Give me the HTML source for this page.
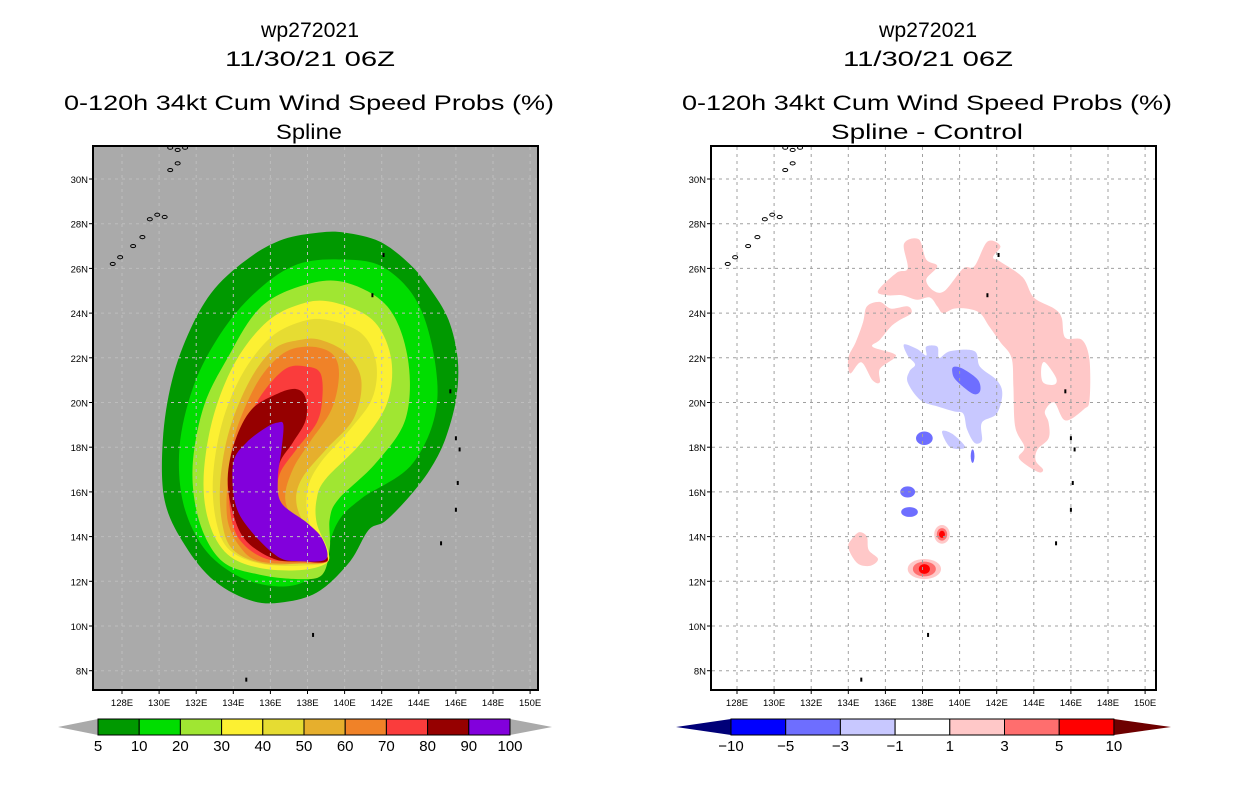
<!DOCTYPE html>
<html><head><meta charset="utf-8"><style>
html,body{margin:0;padding:0;background:#fff;}
svg{display:block;font-family:"Liberation Sans",sans-serif;}
</style></head><body>
<svg id="s" width="1236" height="800" viewBox="0 0 1236 800" xmlns="http://www.w3.org/2000/svg">
<defs>
<clipPath id="clipL"><rect x="93" y="146" width="445" height="544"/></clipPath>
<clipPath id="clipR"><rect x="711" y="146" width="445" height="544"/></clipPath>
</defs>
<g font-size="21" text-anchor="middle" fill="#000">
<text x="310" y="37" textLength="98" lengthAdjust="spacingAndGlyphs">wp272021</text>
<text x="310" y="66" textLength="170" lengthAdjust="spacingAndGlyphs">11/30/21 06Z</text>
<text x="309" y="110" textLength="490" lengthAdjust="spacingAndGlyphs">0-120h 34kt Cum Wind Speed Probs (%)</text>
<text x="309" y="139" textLength="66" lengthAdjust="spacingAndGlyphs">Spline</text>
</g>
<g font-size="21" text-anchor="middle" fill="#000">
<text x="928" y="37" textLength="98" lengthAdjust="spacingAndGlyphs">wp272021</text>
<text x="928" y="66" textLength="170" lengthAdjust="spacingAndGlyphs">11/30/21 06Z</text>
<text x="927" y="110" textLength="490" lengthAdjust="spacingAndGlyphs">0-120h 34kt Cum Wind Speed Probs (%)</text>
<text x="927" y="139" textLength="192" lengthAdjust="spacingAndGlyphs">Spline - Control</text>
</g>
<rect x="93" y="146" width="445" height="544" fill="#aaaaaa"/>
<rect x="711" y="146" width="445" height="544" fill="#ffffff"/>
<g id="left-fill" clip-path="url(#clipL)"></g>
<g id="right-fill" clip-path="url(#clipR)"></g>
<g id="grid"></g>
<g id="islands"></g>
<rect x="93" y="146" width="445" height="544" fill="none" stroke="#000" stroke-width="2"/>
<rect x="711" y="146" width="445" height="544" fill="none" stroke="#000" stroke-width="2"/>
<g id="axes" font-size="9.5" fill="#000"></g>
<g id="cbars"></g>
</svg>
<script>
// ---- axis ticks ----
const lonTicks = [128,130,132,134,136,138,140,142,144,146,148,150];
const latTicks = [8,10,12,14,16,18,20,22,24,26,28,30];
// ---- left panel probability contours (lon,lat) ----
const levelsLeft = [5,10,20,30,40,50,60,70,80,90,100];
const c5 = [[138.6,27.6],[140.0,27.6],[141.9,27.2],[143.5,26.2],[144.6,25.1],[145.6,23.7],[146.1,21.9],[146.0,20.1],[145.4,18.3],[144.6,17.0],[143.5,15.8],[142.2,14.7],[141.3,14.3],[140.3,12.9],[138.7,11.6],[137.0,11.1],[135.1,11.1],[133.0,12.0],[131.4,13.6],[130.3,15.6],[130.2,18.3],[130.7,21.0],[131.7,23.3],[133.0,25.1],[134.9,26.5],[136.7,27.3]];
const c10 = [[139.7,26.4],[142.2,26.0],[144.2,24.0],[145.0,20.2],[143.7,17.3],[140.9,15.7],[139.6,14.6],[138.7,12.6],[137.6,11.9],[136.0,11.8],[134.1,12.3],[132.4,13.5],[131.3,15.5],[131.1,18.0],[131.8,20.6],[133.1,22.8],[134.9,24.7],[137.2,26.1]];
const c20 = [[139.9,25.4],[142.3,24.3],[143.4,22.0],[143.3,19.3],[141.7,17.3],[139.7,15.7],[139.2,14.8],[139.2,13.5],[138.8,12.3],[137.6,12.1],[135.4,12.3],[133.4,12.9],[132.2,14.6],[131.8,17.0],[132.4,19.8],[133.7,22.0],[135.4,24.2],[137.6,25.2]];
const c30 = [[139.3,24.5],[141.5,23.7],[142.5,22.0],[142.3,20.0],[140.9,18.2],[139.0,16.6],[138.5,15.7],[138.5,14.6],[139.1,13.4],[139.0,12.8],[137.6,12.5],[135.4,12.6],[133.7,13.2],[132.7,14.6],[132.4,16.6],[132.9,19.3],[134.1,21.8],[135.8,23.6],[137.6,24.4]];
const c40 = [[139.0,23.7],[140.9,23.1],[141.7,21.8],[141.5,20.2],[140.3,18.8],[138.7,17.3],[138.0,16.1],[138.1,14.6],[139.1,13.0],[137.6,12.7],[135.4,12.8],[133.8,13.4],[133.1,14.6],[132.9,16.6],[133.4,19.1],[134.5,21.3],[136.0,22.9],[137.6,23.6]];
const c50 = [[138.7,22.8],[140.1,22.2],[140.9,21.0],[140.5,19.3],[139.0,17.9],[137.7,16.6],[137.4,15.5],[138.0,14.3],[139.1,13.0],[137.6,12.8],[135.6,12.8],[134.0,13.4],[133.4,14.6],[133.3,16.5],[133.8,18.8],[134.9,21.0],[136.2,22.4],[137.6,22.8]];
const c60 = [[138.1,22.5],[139.3,22.2],[139.7,21.3],[139.3,19.7],[138.1,18.2],[137.2,17.0],[136.8,15.7],[137.4,14.6],[139.1,13.0],[137.6,12.8],[135.4,12.9],[134.4,13.5],[133.7,14.7],[133.7,16.5],[134.1,18.6],[135.3,20.9],[136.7,22.2]];
const c70 = [[138.0,21.6],[138.7,21.3],[138.8,20.2],[138.5,19.1],[137.4,17.9],[136.5,16.8],[136.4,15.7],[136.8,14.7],[139.1,13.0],[137.6,12.9],[135.8,13.0],[134.5,13.7],[133.9,14.8],[133.8,16.6],[134.4,18.4],[135.4,20.2],[136.8,21.5]];
const c80 = [[137.4,20.6],[137.9,20.2],[137.9,19.2],[137.2,18.2],[136.5,17.3],[136.3,16.1],[136.5,15.2],[137.6,14.6],[139.1,13.0],[137.6,12.9],[136.2,13.0],[134.7,13.8],[134.0,15.0],[133.7,16.6],[134.1,18.3],[135.0,19.7],[136.4,20.4]];
const c90 = [[136.4,19.1],[136.7,19.0],[136.6,17.9],[136.4,16.6],[136.6,15.5],[138.0,14.6],[138.8,13.9],[139.0,13.0],[137.6,12.9],[136.4,13.1],[134.9,14.3],[134.1,15.5],[134.0,17.3],[134.7,18.2],[135.8,18.9]];
const leftColors = ['#009900','#00dd00','#a0e632','#fcf032','#e6dc32','#e6af2d','#f08228','#fa3c3c','#960000','#8200dc'];
// ---- right panel difference contours (lon,lat) ----
const levelsRight = [-10,-5,-3,-1,1,3,5,10];
const pinkMain = [[135.6,25.0],[136.6,25.8],[137.2,26.0],[137.0,27.1],[137.8,27.3],[138.2,26.4],[138.8,26.1],[138.2,25.5],[138.6,25.0],[139.2,25.0],[140.2,26.0],[140.8,26.1],[141.5,27.2],[142.2,27.0],[141.8,26.5],[142.2,26.3],[143.4,25.6],[144.0,24.7],[145.1,24.2],[145.5,23.8],[145.7,22.9],[146.6,22.8],[147.0,21.9],[147.0,20.1],[146.7,19.7],[145.7,19.2],[145.1,20.0],[144.6,19.6],[144.8,19.1],[144.8,18.4],[144.2,17.9],[144.1,17.4],[144.5,17.0],[144.2,16.9],[143.2,17.5],[143.5,18.0],[143.0,18.9],[142.9,20.7],[142.8,22.0],[142.2,22.7],[141.6,23.4],[141.1,24.0],[140.4,24.2],[139.7,24.2],[139.1,24.0],[138.8,24.3],[138.4,24.7],[137.7,24.6],[136.9,24.8],[136.1,24.8]];
const pinkHole = [[144.4,21.5],[144.6,21.8],[145.2,21.1],[145.1,20.8],[144.5,20.9]];
const pinkWest = [[135.0,24.3],[135.7,24.5],[136.3,24.2],[137.2,24.3],[137.4,24.0],[136.8,23.7],[136.3,23.4],[135.7,22.8],[135.3,22.5],[136.4,22.2],[136.5,22.0],[135.7,21.5],[135.7,20.9],[135.3,21.0],[134.7,21.8],[134.1,21.3],[134.0,22.0],[134.4,22.7],[134.8,23.6]];
const pinkSW = [[134.6,14.2],[135.0,14.0],[135.1,13.4],[135.6,13.0],[135.2,12.7],[134.5,12.8],[134.0,13.5],[134.2,13.9]];
const blueLight = [[137.0,22.6],[137.7,22.4],[138.2,22.1],[138.2,22.5],[138.8,22.5],[138.9,22.0],[139.5,22.3],[140.8,22.3],[141.1,21.6],[142.0,21.0],[142.3,20.4],[142.0,19.5],[141.2,19.1],[141.2,18.3],[140.8,18.2],[140.4,18.8],[140.2,19.5],[139.7,19.6],[138.9,19.8],[137.9,20.1],[137.2,20.9],[137.3,21.4],[137.6,21.7],[137.2,22.1]];
const blueDark = [[139.7,21.6],[140.2,21.5],[141.0,21.0],[141.1,20.5],[140.7,20.4],[139.8,21.0],[139.6,21.4]];
const blueSmall = [[139.05,18.7],[139.6,18.6],[140.3,18.0],[139.5,18.0]];
const blobLon = [134.7,141.0,138.1,137.2,137.3,140.7,139.05,139.05,139.05,139.05,138.1,138.1,138.1,138.1];
const blobLat = [20.0,25.0,18.4,16.0,15.1,17.6,14.1,14.1,14.1,14.1,12.55,12.55,12.55,12.55];
const blobLevel = [4,5,2,2,2,2,4,5,6,7,4,5,6,7];
const blobRx = [0.3,0.45,0.45,0.4,0.45,0.1,0.6,0.42,0.28,0.16,1.2,0.9,0.62,0.3];
const blobRy = [0.35,0.12,0.3,0.25,0.22,0.3,0.6,0.42,0.28,0.16,0.6,0.45,0.33,0.22];
const rightColors = ['#000078','#0000ff','#6e6eff','#c8c8ff','#ffffff','#ffc8c8','#ff6e6e','#ff0000','#6e0000'];
// ---- islands (lon,lat) ----
const islandChain = [[126.3,26.3],[127.5,26.2],[127.9,26.5],[128.6,27.0],[129.1,27.4],[129.5,28.2],[129.9,28.4],[130.3,28.3]];
const islandTop = [[130.6,31.4],[131.0,31.3],[131.4,31.4],[131.0,30.7],[130.6,30.4]];
const islandDots = [[134.7,7.6],[138.3,9.6],[145.2,13.7],[146.0,15.2],[146.0,18.4],[142.1,26.6],[141.5,24.8],[146.2,17.9],[145.7,20.5],[146.1,16.4]];

const NS='http://www.w3.org/2000/svg';
function mk(tag,attrs,parent){const e=document.createElementNS(NS,tag);for(const k in attrs)e.setAttribute(k,attrs[k]);parent.appendChild(e);return e;}
const panels = {L:93, R:711};
function xS(p,lon){return (p==='L'?122:737)+(lon-128)*18.55;}
function yS(lat){return 179+(30-lat)*22.35;}
function smooth(p,pts){
  const P=pts.map(d=>[xS(p,d[0]),yS(d[1])]);const n=P.length;let s='M'+P[0][0].toFixed(1)+','+P[0][1].toFixed(1);
  for(let i=0;i<n;i++){const p0=P[(i-1+n)%n],p1=P[i],p2=P[(i+1)%n],p3=P[(i+2)%n];
    const c1=[p1[0]+(p2[0]-p0[0])/6,p1[1]+(p2[1]-p0[1])/6],c2=[p2[0]-(p3[0]-p1[0])/6,p2[1]-(p3[1]-p1[1])/6];
    s+='C'+c1[0].toFixed(1)+','+c1[1].toFixed(1)+' '+c2[0].toFixed(1)+','+c2[1].toFixed(1)+' '+p2[0].toFixed(1)+','+p2[1].toFixed(1);}
  return s+'Z';}
const lf=document.getElementById('left-fill');
[c5,c10,c20,c30,c40,c50,c60,c70,c80,c90].forEach((c,i)=>{
  const e=mk('path',{d:smooth('L',c),fill:leftColors[i]},lf);
  
  
});
const rf=document.getElementById('right-fill');
function rp(pts,col,name,rule){const e=mk('path',{d:pts,fill:col,'fill-rule':rule||'nonzero'},rf);
  
  }
rp(smooth('R',pinkMain)+smooth('R',pinkHole),rightColors[5],'positive-diff-region-north','evenodd');
rp(smooth('R',pinkWest),rightColors[5],'positive-diff-region-west');
rp(smooth('R',pinkSW),rightColors[5],'positive-diff-region-southwest');
rp(smooth('R',blueLight),rightColors[3],'negative-diff-region');
rp(smooth('R',blueDark),rightColors[2],'negative-diff-core');
rp(smooth('R',blueSmall),rightColors[3],'negative-diff-small');
blobLon.forEach((lon,i)=>{
  const e=mk('ellipse',{cx:xS('R',lon),cy:yS(blobLat[i]),rx:blobRx[i]*18.55,ry:blobRy[i]*22.35,fill:rightColors[blobLevel[i]]},rf);
  
  
});
const g=document.getElementById('grid');
['L','R'].forEach(p=>{
  const x0=panels[p],col=p==='L'?'#bdbdbd':'#a0a0a0';
  lonTicks.concat([126]).forEach(lon=>{const x=xS(p,lon);if(x<=x0||x>=x0+445)return;
    const e=mk('line',{x1:x,y1:147,x2:x,y2:689,stroke:col,'stroke-width':1,'stroke-dasharray':'3,4'},g);
    
    });
  latTicks.forEach(lat=>{const y=yS(lat);
    const e=mk('line',{x1:x0+1,y1:y,x2:x0+444,y2:y,stroke:col,'stroke-width':1,'stroke-dasharray':'3,4'},g);
    
    });
});
const isl=document.getElementById('islands');
['L','R'].forEach(p=>{
  const cl=mk('g',{'clip-path':'url(#clip'+p+')'},isl);
  
  
  islandChain.concat(islandTop).forEach(d=>{
    const e=mk('ellipse',{cx:xS(p,d[0]),cy:yS(d[1]),rx:2.5,ry:1.6,fill:'none',stroke:'#000','stroke-width':1},cl);
    
    });
  islandDots.forEach(d=>{
    const e=mk('rect',{x:xS(p,d[0])-1,y:yS(d[1])-2,width:2,height:4,fill:'#000'},cl);
    
    });
});
const ax=document.getElementById('axes');
['L','R'].forEach(p=>{
  const x0=panels[p];
  lonTicks.forEach(lon=>{const x=xS(p,lon);
    const t=mk('line',{x1:x,y1:690,x2:x,y2:694,stroke:'#000'},ax);
    
    
    const e=mk('text',{x:x,y:706,'text-anchor':'middle'},ax);e.textContent=lon+'E';
    
    });
  latTicks.forEach(lat=>{const y=yS(lat);
    const t=mk('line',{x1:x0-4,y1:y,x2:x0,y2:y,stroke:'#000'},ax);
    
    
    const e=mk('text',{x:x0-5,y:y+4,'text-anchor':'end'},ax);e.textContent=lat+'N';
    
    });
});
const cb=document.getElementById('cbars');
(function(){
  const x0=98,w=41.2,y0=719,h=16;
  const tl=mk('polygon',{points:`58,${y0+h/2} ${x0},${y0} ${x0},${y0+h}`,fill:'#aaaaaa'},cb);
  
  
  const tr=mk('polygon',{points:`${x0+10*w},${y0} 552,${y0+h/2} ${x0+10*w},${y0+h}`,fill:'#aaaaaa'},cb);
  
  
  leftColors.forEach((c,i)=>{const e=mk('rect',{x:x0+i*w,y:y0,width:w,height:h,fill:c,stroke:'#000','stroke-width':1},cb);
    
    });
  levelsLeft.forEach((v,i)=>{const e=mk('text',{x:x0+i*w,y:751,'text-anchor':'middle','font-size':15},cb);e.textContent=v;
    
    });
})();
(function(){
  const x0=731,w=54.7,y0=719,h=16;
  const tl=mk('polygon',{points:`676,${y0+h/2} ${x0},${y0} ${x0},${y0+h}`,fill:rightColors[0]},cb);
  
  
  const tr=mk('polygon',{points:`${x0+7*w},${y0} 1171,${y0+h/2} ${x0+7*w},${y0+h}`,fill:rightColors[8]},cb);
  
  
  rightColors.slice(1,8).forEach((c,i)=>{const e=mk('rect',{x:x0+i*w,y:y0,width:w,height:h,fill:c,stroke:'#000','stroke-width':1},cb);
    
    });
  levelsRight.forEach((v,i)=>{const e=mk('text',{x:x0+i*w,y:751,'text-anchor':'middle','font-size':15},cb);e.textContent=v<0?'\u2212'+(-v):v;
    
    });
})();
</script>
</body></html>
